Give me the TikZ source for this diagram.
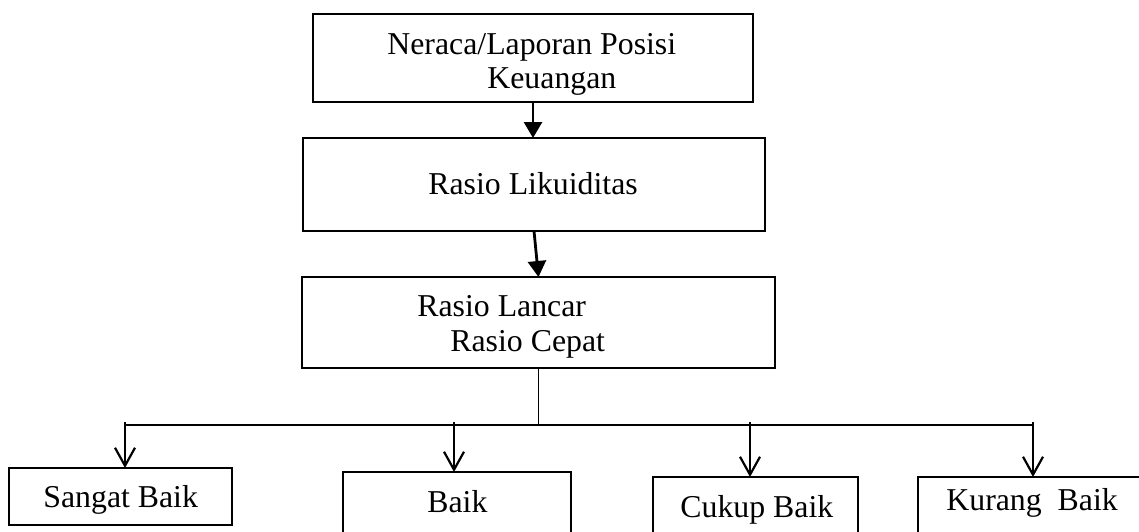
\documentclass[tikz,border=0pt]{standalone}
\usepackage{fontspec}
\setmainfont{Liberation Serif}
\usetikzlibrary{arrows.meta}

\begin{document}
\begin{tikzpicture}[x=0.5pt, y=-0.5pt,
        box/.style={draw, line width=1.1pt, inner sep=0pt, outer sep=0pt},
        lbl/.style={anchor=base west, inner sep=0pt, font=\fontsize{15.9}{19}\selectfont},
        tri/.style={line width=1.4pt, -{Triangle[length=8pt, width=9pt]}},
        vee/.style={line width=1.1pt, -{Straight Barb[length=9pt, width=10pt, line width=1.1pt]}}]
        \useasboundingbox (0,0) rectangle (1139,531);
        \clip (0,0) rectangle (1139,531);

        % --- 1. The upper chain ---
        \node[box, minimum width=220pt, minimum height=44pt] (neraca) at (533,58) {};
        \node[lbl] (neracaA) at (387,54) {Neraca/Laporan Posisi};
        \node[lbl] (neracaB) at (487,88) {Keuangan};

        \node[box, minimum width=231pt, minimum height=46.5pt] (likuid) at (534,184.5) {};
        \node[lbl] (likuidA) at (428,194) {Rasio Likuiditas};

        \node[box, minimum width=236.5pt, minimum height=45.5pt] (rasio) at (538.5,322.5) {};
        \node[lbl] (rasioA) at (417,316) {Rasio Lancar};
        \node[lbl] (rasioB) at (450,351) {Rasio Cepat};

        \draw[tri] (neraca.south) -- (neraca.south |- likuid.north);
        \draw[tri] (likuid.south) -- (rasio.north);

        % --- 2. The four ratings (bottoms run off the page) ---
        \node[box, minimum width=111.5pt, minimum height=28.5pt] (sangat) at (120.5,496.5) {};
        \node[lbl] (sangatA) at (43,507) {Sangat Baik};

        \node[box, minimum width=114pt, minimum height=44pt] (baik) at (457,516) {};
        \node[lbl] (baikA) at (427,512) {Baik};

        \node[box, minimum width=102.5pt, minimum height=41.5pt] (cukup) at (755.5,518.5) {};
        \node[lbl] (cukupA) at (680,517) {Cukup Baik};

        \node[box, minimum width=126pt, minimum height=41.5pt] (kurang) at (1044,518.5) {};
        \node[lbl] (kurangA) at (946,510) {Kurang\ \ Baik};

        % --- 3. Branching line ---
        \coordinate (busL) at (125,425);
        \coordinate (busR) at (1033,425);
        \draw[line width=0.7pt] (rasio.south) -- (rasio.south |- busL);
        \draw[line width=1pt] (busL) -- (busR);
        \foreach \x/\n in {125/sangat, 454/baik, 750/cukup, 1033/kurang} {
            \draw[vee] (\x,422) -- (\x,422 |- \n.north);
        }

\end{tikzpicture}
\end{document}
